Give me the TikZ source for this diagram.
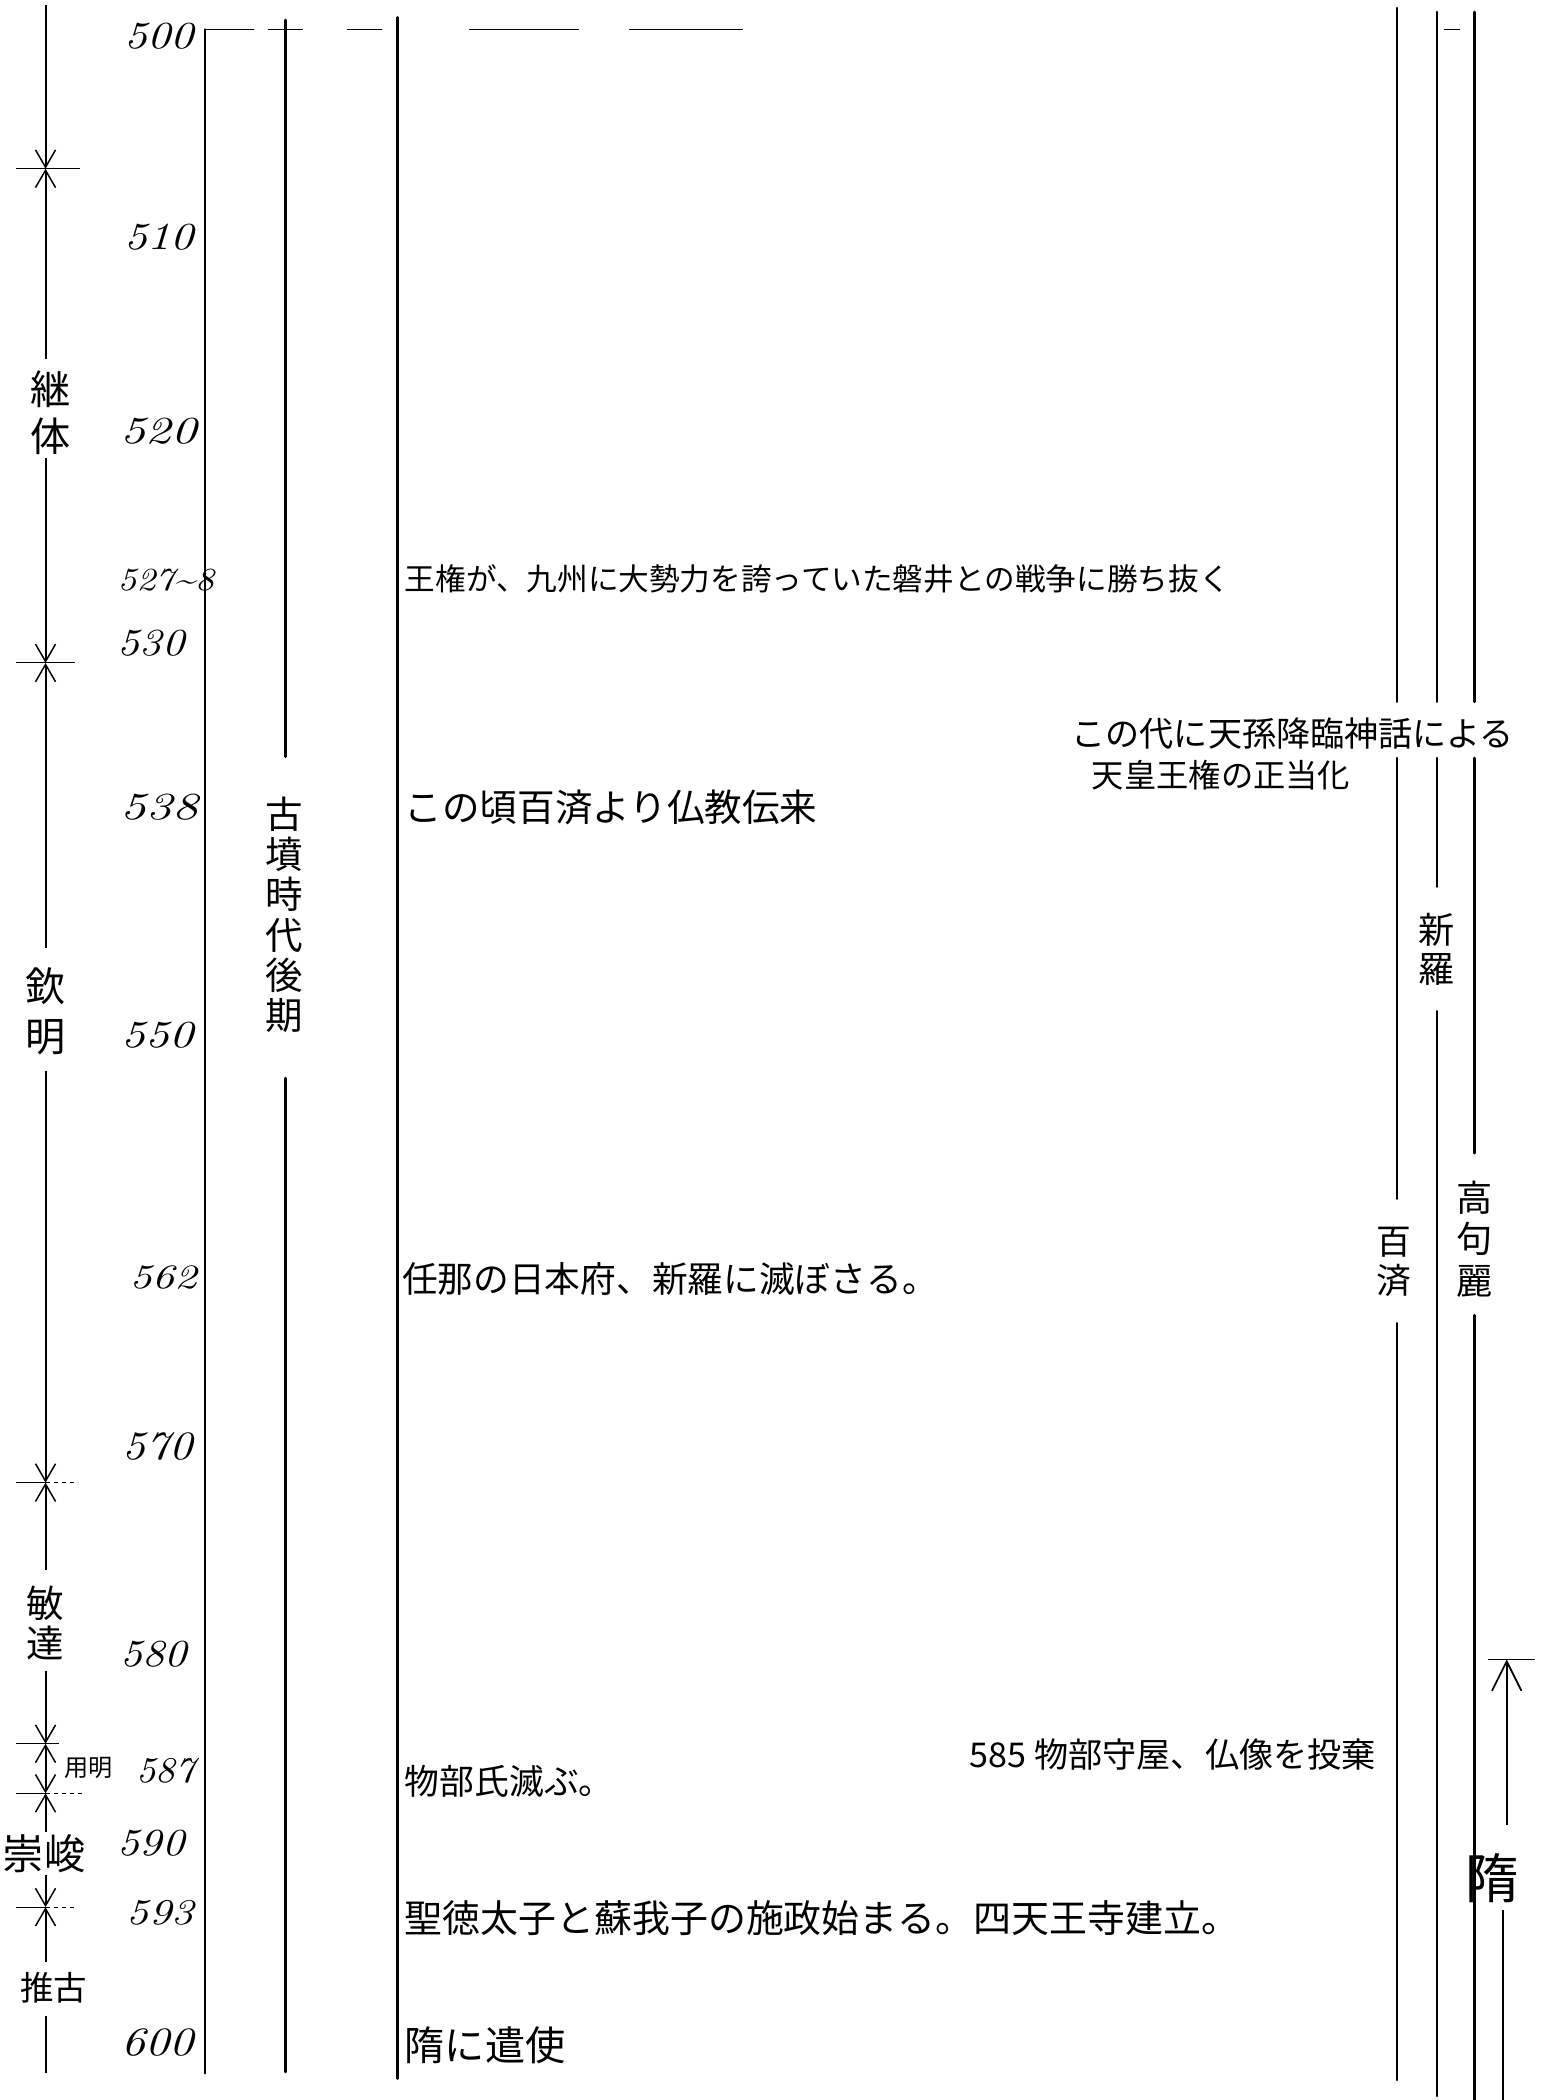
\documentclass[tikz,border=0pt]{standalone}
\usepackage{graphicx}
\usepackage{fontspec}
\newfontfamily\jp{Noto Sans CJK JP}
\usetikzlibrary{arrows.meta}
\newcommand\yr[3]{\resizebox{#1pt}{#2pt}{\itshape #3}}
\newcommand\ev[2]{\resizebox{#1pt}{!}{\jp #2}}
\tikzset{
  bb/.tip={Straight Barb[length=13pt,width=15pt,line width=1.1pt]},
  up/.tip={Straight Barb[length=22pt,width=22pt,line width=1.3pt]},
  mainline/.style={line width=2pt, line cap=round},
  reign/.style={line width=1.5pt},
  tickline/.style={line width=0.8pt},
  topdash/.style={line width=0.9pt},
  num/.style={anchor=east, inner sep=0pt},
  event/.style={anchor=west, inner sep=0pt},
  vlab/.style={align=center, inner sep=0pt},
  hand/.style={inner sep=0pt, align=center},
}
\begin{document}
\begin{tikzpicture}[x=1pt,y=-1pt]
\useasboundingbox (0,0) rectangle (1152,1568);
\fill[white] (0,0) rectangle (1152,1568);

% ---- reign column (left) ----
\draw[reign,-bb] (34,4) -- (34,126);
\draw[reign,bb-] (34,126) -- (34,268);
\draw[reign,-bb] (34,342) -- (34,495);
\draw[reign,bb-] (34,495) -- (34,708);
\draw[reign,-bb] (34,800) -- (34,1107);
\draw[reign,bb-] (34,1107) -- (34,1172);
\draw[reign,-bb] (34,1248) -- (34,1302);
\draw[reign,bb-bb] (34,1302) -- (34,1339);
\draw[reign,bb-] (34,1339) -- (34,1368);
\draw[reign,-bb] (34,1400) -- (34,1424);
\draw[reign,bb-] (34,1424) -- (34,1465);
\draw[reign] (34,1505) -- (34,1548);

\draw[tickline] (12,126) -- (60,126);
\draw[tickline] (12,495) -- (56,495);
\draw[tickline] (12,1107) -- (34,1107);
\draw[tickline,dashed] (34,1107) -- (58,1107);
\draw[tickline] (12,1302) -- (44,1302);
\draw[tickline] (12,1339) -- (34,1339);
\draw[tickline,dashed] (34,1339) -- (62,1339);
\draw[tickline] (12,1424) -- (34,1424);
\draw[tickline,dashed] (34,1424) -- (57,1424);

\node[hand,font={\jp\fontsize{30}{35}\selectfont}] (keitai) at (38,308) {継\\体};
\node[hand,font={\jp\fontsize{30}{37}\selectfont}] (kinmei) at (34,755) {欽\\明};
\node[hand,font={\jp\fontsize{28}{30}\selectfont}] (bidatsu) at (34,1212) {敏\\達};
\node[hand,font={\jp\fontsize{18}{18}\selectfont}] (yomei) at (66,1320) {用明};
\node[hand,font={\jp\fontsize{31}{31}\selectfont}] (sushun) at (33,1384) {崇峻};
\node[hand,font={\jp\fontsize{25}{25}\selectfont}] (suiko) at (40,1484) {推古};

% ---- year labels ----
\node[num] (y500) at (145,27) {\yr{52}{19}{500}};
\node[num] (y510) at (145,177) {\yr{52}{19}{510}};
\node[num] (y520) at (147,322) {\yr{57}{19}{520}};
\node[num] (y527) at (160,433) {\yr{72}{16}{527\textasciitilde 8}};
\node[num] (y530) at (138,480) {\yr{50}{19}{530}};
\node[num] (y538) at (148,603) {\yr{58}{19}{538}};
\node[num] (y550) at (145,773) {\yr{54}{19}{550}};
\node[num] (y562) at (147,954) {\yr{50}{17}{562}};
\node[num] (y570) at (144,1080) {\yr{52}{20}{570}};
\node[num] (y580) at (140,1235) {\yr{50}{19}{580}};
\node[num] (y587) at (146,1322) {\yr{44}{18}{587}};
\node[num] (y590) at (138,1376) {\yr{50}{19}{590}};
\node[num] (y593) at (145,1428) {\yr{50}{18}{593}};
\node[num] (y600) at (145,1525) {\yr{54}{20}{600}};

% ---- main vertical lines ----
\draw[mainline] (153,22) -- (153,1548);
\draw[mainline] (213,15) -- (213,565);
\draw[mainline] (213,805) -- (213,1547);
\draw[mainline] (297,13) -- (297,1552);

\node[vlab,font={\jp\fontsize{28}{30}\selectfont}] (kofun) at (212,683) {古\\墳\\時\\代\\後\\期};

% ---- top dashed line ----
\draw[topdash] (153,22) -- (190,22);
\draw[topdash] (200,22) -- (226,22);
\draw[topdash] (259,22) -- (285,22);
\draw[topdash] (350,22) -- (432,22);
\draw[topdash] (470,22) -- (555,22);
\draw[topdash] (1078,22) -- (1090,22);

% ---- events ----
\node[event] (e527) at (302,432) {\ev{616}{王権が、九州に大勢力を誇っていた磐井との戦争に勝ち抜く}};
\node[event] (e538) at (302,603) {\ev{308}{この頃百済より仏教伝来}};
\node[event] (e562) at (300,955) {\ev{400}{任那の日本府、新羅に滅ぼさる。}};
\node[event] (e587) at (302,1330) {\ev{156}{物部氏滅ぶ。}};
\node[event] (e585) at (724,1310) {\ev{303}{585 物部守屋、仏像を投棄}};
\node[event] (e593) at (302,1432) {\ev{623}{聖徳太子と蘇我子の施政始まる。四天王寺建立。}};
\node[event] (e600) at (302,1527) {\ev{120}{隋に遣使}};
\node[event] (ann1) at (800,548) {\ev{330}{この代に天孫降臨神話による}};
\node[event] (ann2) at (815,579) {\ev{193}{天皇王権の正当化}};

% ---- Korean kingdoms ----
\draw[mainline] (1043,6) -- (1043,524);
\draw[mainline] (1043,566) -- (1043,895);
\draw[mainline] (1043,988) -- (1043,1553);
\draw[mainline] (1073,9) -- (1073,524);
\draw[mainline] (1073,566) -- (1073,662);
\draw[mainline] (1073,755) -- (1073,1565);
\draw[mainline] (1101,9) -- (1101,524);
\draw[mainline] (1101,566) -- (1101,861);
\draw[mainline] (1101,982) -- (1101,1568);

\node[vlab,font={\jp\fontsize{27}{29}\selectfont}] (shiragi) at (1073,709) {新\\羅};
\node[vlab,font={\jp\fontsize{27}{31}\selectfont}] (koguryo) at (1101,925) {高\\句\\麗};
\node[vlab,font={\jp\fontsize{26}{29}\selectfont}] (kudara) at (1041,942) {百\\済};

% ---- Sui ----
\draw[line width=1.3pt] (1111,1239) -- (1146,1239);
\draw[line width=1.5pt,-up] (1125,1363) -- (1125,1239);
\node[hand,font={\jp\fontsize{40}{40}\selectfont}] (sui) at (1114,1402) {隋};
\draw[line width=1.5pt] (1122,1426) -- (1122,1568);
\end{tikzpicture}
\end{document}
